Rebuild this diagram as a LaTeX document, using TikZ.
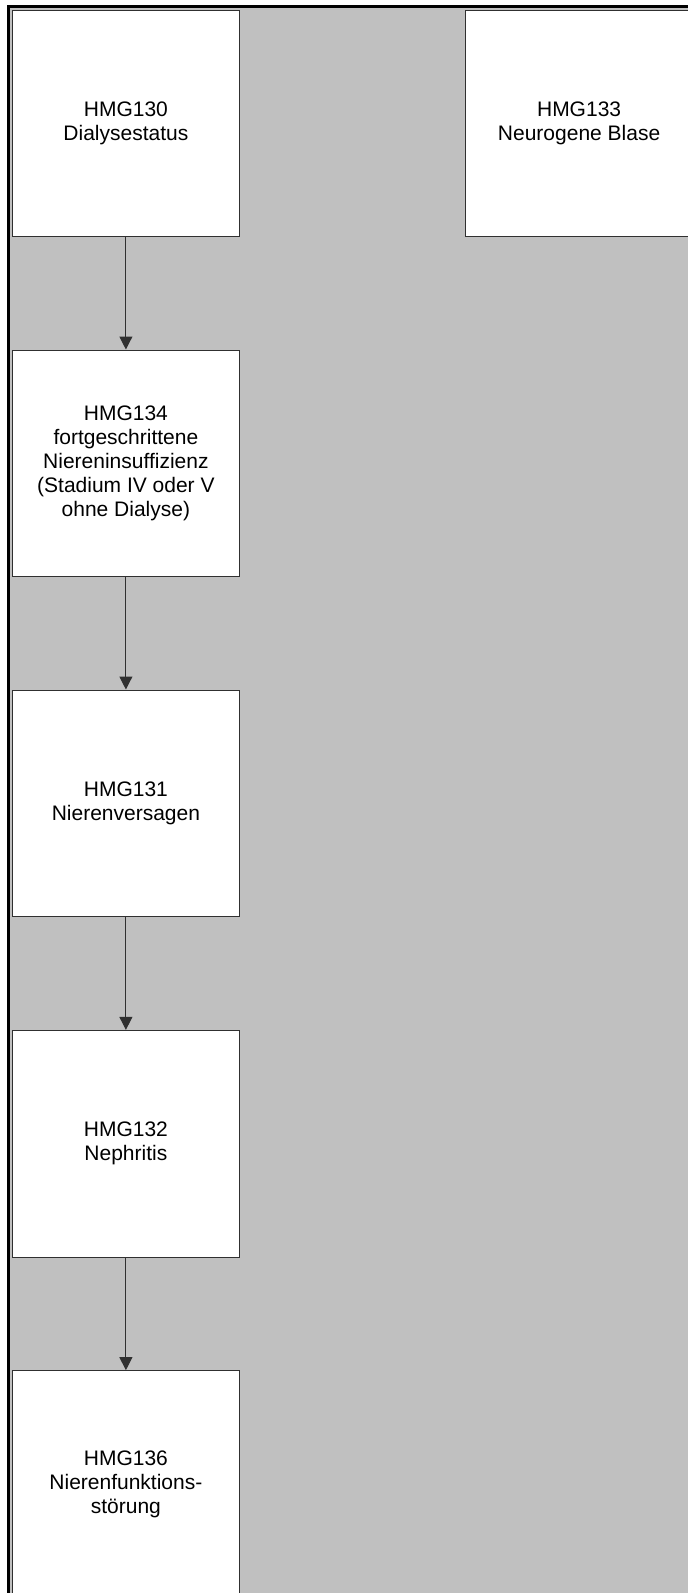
\documentclass[tikz,border=0pt]{standalone}
\usepackage{fontspec}
\setmainfont{Liberation Sans}
\usetikzlibrary{arrows.meta}
\definecolor{Panel}{HTML}{C0C0C0}
\definecolor{Edge}{HTML}{303030}

\begin{document}
\begin{tikzpicture}[
  x=1pt,y=-1pt,
  font=\fontsize{21}{24}\selectfont,
  hmg/.style={draw=Edge, fill=white, line width=1pt, align=center, inner sep=0pt, minimum width=226.8pt, minimum height=226.7pt},
  arr/.style={-{Triangle[length=13pt,width=13pt]}, line width=1pt, draw=Edge}
]
  \useasboundingbox (0,0) rectangle (688,1593);
  % grey panel with its dark frame on top and left
  \fill[Panel] (7,5) rectangle (688,1593);
  \draw[line width=3pt] (8.5,1593) -- (8.5,6.5) -- (688,6.5);

  \node[hmg] (h130) at (125.9,123.35) {HMG130\\Dialysestatus};
  \node[hmg] (h133) at (579.1,123.35) {HMG133\\Neurogene Blase};
  \node[hmg] (h134) at (125.9,463.35) {HMG134\\fortgeschrittene\\Niereninsuffizienz\\(Stadium IV oder V\\ohne Dialyse)};
  \node[hmg] (h131) at (125.9,803.35) {HMG131\\Nierenversagen};
  \node[hmg] (h132) at (125.9,1143.7) {HMG132\\Nephritis};
  \node[hmg] (h136) at (125.9,1484.0) {HMG136\\Nierenfunktions-\\störung};

  \draw[arr] (h130) -- (h134);
  \draw[arr] (h134) -- (h131);
  \draw[arr] (h131) -- (h132);
  \draw[arr] (h132) -- (h136);
\end{tikzpicture}
\end{document}
